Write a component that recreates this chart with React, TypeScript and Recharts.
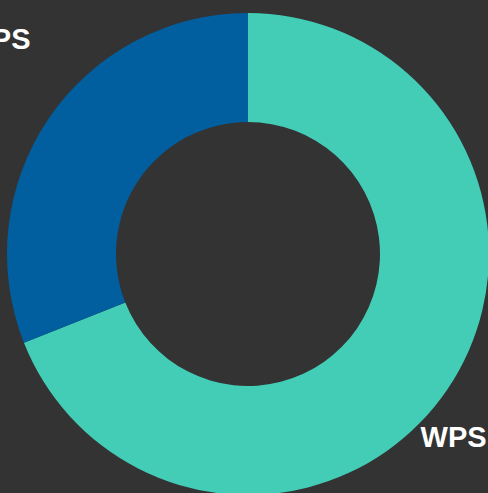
import React from "react";
import { PieChart, Pie, Cell } from "recharts";

const categories = ["WPS", "Non-WPS"];
const shares = [69, 31];
const colors = ["#43CDB6", "#015FA0"];

const data = categories.map((name, i) => ({ name, value: shares[i] }));

const RAD = Math.PI / 180;

// labels sit off the ring, one on each side
function renderLabel(props: any) {
  const { cx, cy, midAngle, outerRadius, name } = props;
  const right = Math.cos(-midAngle * RAD) > 0;
  const x = right ? cx + outerRadius * 0.716 : cx - outerRadius * 0.9025;
  const y = right ? cy + outerRadius * 0.802 : cy - outerRadius * 0.849;
  return (
    <text
      x={x}
      y={y}
      fill="#ffffff"
      textAnchor={right ? "start" : "end"}
      fontFamily="'Liberation Sans', Arial, sans-serif"
      fontWeight="bold"
      fontSize={29}
    >
      {name}
    </text>
  );
}

export default function App() {
  return (
    <div
      style={{
        position: "fixed",
        left: 0,
        top: 0,
        width: 488,
        height: 493,
        background: "#333333",
        overflow: "hidden",
      }}
    >
      <PieChart
        width={488}
        height={493}
        margin={{ top: 0, right: 0, bottom: 0, left: 0 }}
        style={{ background: "#333333" }}
      >
        <Pie
          data={data}
          dataKey="value"
          nameKey="name"
          cx={248}
          cy={254}
          innerRadius={132}
          outerRadius={241}
          startAngle={90}
          endAngle={-270}
          stroke="none"
          label={renderLabel}
          labelLine={false}
          isAnimationActive={false}
        >
          {data.map((d, i) => (
            <Cell key={d.name} fill={colors[i]} />
          ))}
        </Pie>
      </PieChart>
    </div>
  );
}
